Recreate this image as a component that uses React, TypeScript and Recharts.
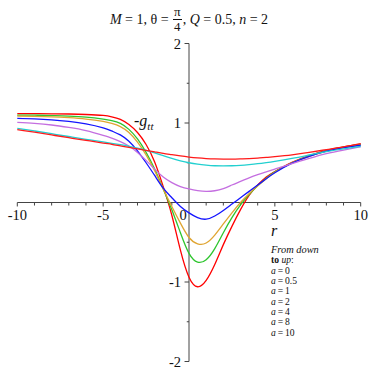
import React from "react";
import {
  LineChart,
  Line,
  XAxis,
  YAxis,
  ReferenceLine,
  ReferenceDot,
} from "recharts";

// r values the curves were read at
const rValues = [
  -10, -9, -8, -7, -6, -5, -4.5, -4, -3.5, -3, -2.5, -2, -1.5, -1, -0.5, 0, 0.5,
  1, 1.5, 2, 2.5, 3, 3.5, 4, 4.5, 5, 6, 7, 8, 9, 10,
];

// -g_tt, one array per value of a
const gA0 = [
  1.117, 1.117, 1.116, 1.113, 1.107, 1.095, 1.078, 1.045, 0.98, 0.88, 0.73, 0.51,
  0.2, -0.16, -0.6, -0.94, -1.06, -0.98, -0.78, -0.53, -0.3, -0.09, 0.09, 0.22,
  0.32, 0.39, 0.505, 0.59, 0.655, 0.7, 0.735,
];
const gA05 = [
  1.1, 1.098, 1.094, 1.087, 1.075, 1.05, 1.03, 0.995, 0.92, 0.8, 0.63, 0.42, 0.17,
  -0.09, -0.38, -0.64, -0.75, -0.72, -0.58, -0.38, -0.19, -0.03, 0.1, 0.21,
  0.305, 0.385, 0.5, 0.585, 0.65, 0.695, 0.73,
];
const gA1 = [
  1.088, 1.084, 1.078, 1.067, 1.05, 1.02, 0.995, 0.955, 0.88, 0.76, 0.6, 0.4, 0.17,
  -0.05, -0.26, -0.44, -0.52, -0.51, -0.41, -0.27, -0.13, 0.0, 0.11, 0.21, 0.3,
  0.38, 0.5, 0.58, 0.645, 0.69, 0.725,
];
const gA2 = [
  1.058, 1.052, 1.04, 1.02, 0.99, 0.94, 0.9, 0.85, 0.77, 0.65, 0.5, 0.34, 0.18,
  0.06, -0.05, -0.13, -0.19, -0.21, -0.17, -0.1, -0.02, 0.06, 0.14, 0.22, 0.3,
  0.375, 0.495, 0.58, 0.645, 0.69, 0.72,
];
const gA4 = [
  1.008, 0.995, 0.975, 0.945, 0.905, 0.845, 0.81, 0.765, 0.71, 0.63, 0.53, 0.42,
  0.32, 0.25, 0.2, 0.17, 0.15, 0.14, 0.148, 0.175, 0.22, 0.265, 0.31, 0.35, 0.385,
  0.42, 0.49, 0.555, 0.615, 0.66, 0.7,
];
const gA8 = [
  0.932, 0.9, 0.865, 0.83, 0.795, 0.762, 0.745, 0.727, 0.707, 0.683, 0.656, 0.625,
  0.59, 0.555, 0.525, 0.5, 0.482, 0.47, 0.462, 0.46, 0.462, 0.468, 0.477, 0.488,
  0.502, 0.518, 0.555, 0.598, 0.64, 0.675, 0.705,
];
const gA10 = [
  0.916, 0.885, 0.85, 0.815, 0.782, 0.748, 0.732, 0.712, 0.693, 0.675, 0.656,
  0.637, 0.618, 0.602, 0.586, 0.572, 0.561, 0.553, 0.548, 0.546, 0.546, 0.549,
  0.553, 0.559, 0.567, 0.577, 0.6, 0.63, 0.665, 0.7, 0.74,
];

const aLabels = ["0", "0.5", "1", "2", "4", "8", "10"];

const xTicks = [-10, -9, -8, -7, -6, -5, -4, -3, -2, -1, 1, 2, 3, 4, 5, 6, 7, 8, 9, 10];
const xTickLabels = [-10, -5, 0, 5, 10];
const yTicks = [-2, -1.5, -1, -0.5, 0.5, 1, 1.5, 2];
const yTickLabels = [-2, -1, 1, 2];

const series = [
  { key: "a0", values: gA0, color: "#ff0000" },
  { key: "a05", values: gA05, color: "#2ec52e" },
  { key: "a1", values: gA1, color: "#e0a532" },
  { key: "a2", values: gA2, color: "#1414ff" },
  { key: "a4", values: gA4, color: "#c46ee0" },
  { key: "a8", values: gA8, color: "#22d0d0" },
  { key: "a10", values: gA10, color: "#ff1a1a" },
];

const data = rValues.map((r, i) => {
  const row: Record<string, number> = { r };
  series.forEach((s) => (row[s.key] = s.values[i]));
  return row;
});

const FONT = "'Liberation Serif', 'DejaVu Serif', serif";
const AXIS = "#444";

function TickText({ viewBox, text, dx = 0, dy = 0, anchor = "middle" }: any) {
  if (!viewBox) return null;
  return (
    <text
      x={viewBox.x + dx}
      y={viewBox.y + dy}
      textAnchor={anchor}
      fontFamily={FONT}
      fontSize={14.5}
      fill="#111"
    >
      {text}
    </text>
  );
}

export default function App() {
  return (
    <div
      style={{
        position: "absolute",
        left: 0,
        top: 0,
        width: 374,
        height: 374,
        background: "#fff",
        fontFamily: FONT,
        color: "#111",
      }}
    >
      <LineChart
        width={374}
        height={374}
        data={data}
        margin={{ top: 43.5, right: 13.3, bottom: 12.5, left: 17.3 }}
      >
        <XAxis type="number" dataKey="r" domain={[-10, 10]} hide />
        <YAxis type="number" domain={[-2, 2]} hide />

        <ReferenceLine y={0} stroke={AXIS} strokeWidth={1} />
        <ReferenceLine x={0} stroke={AXIS} strokeWidth={1} />
        {xTicks.map((t) => (
          <ReferenceLine
            key={"xt" + t}
            segment={[
              { x: t, y: 0 },
              { x: t, y: t % 5 === 0 ? -0.05 : -0.038 },
            ]}
            stroke={AXIS}
          />
        ))}
        {yTicks.map((t) => (
          <ReferenceLine
            key={"yt" + t}
            segment={[
              { x: 0, y: t },
              { x: Number.isInteger(t) ? -0.26 : -0.13, y: t },
            ]}
            stroke={AXIS}
          />
        ))}
        {xTickLabels.map((t) => (
          <ReferenceDot
            key={"xl" + t}
            x={t}
            y={0}
            r={0}
            fill="none"
            stroke="none"
            label={
              <TickText text={String(t)} dx={t === 0 ? -6 : 0} dy={17} />
            }
          />
        ))}
        {yTickLabels.map((t) => (
          <ReferenceDot
            key={"yl" + t}
            x={0}
            y={t}
            r={0}
            fill="none"
            stroke="none"
            label={<TickText text={String(t)} dx={-8} dy={5} anchor="end" />}
          />
        ))}

        {series.map((s) => (
          <Line
            key={s.key}
            type="natural"
            dataKey={s.key}
            stroke={s.color}
            strokeWidth={1.3}
            dot={false}
            activeDot={false}
            isAnimationActive={false}
          />
        ))}
      </LineChart>

      {/* title */}
      <div
        style={{
          position: "absolute",
          left: 0,
          top: 5,
          width: 378,
          display: "flex",
          justifyContent: "center",
          alignItems: "center",
          fontSize: 14,
          whiteSpace: "pre",
        }}
      >
        <i>M</i>
        {" = 1, θ = "}
        <span
          style={{
            display: "inline-flex",
            flexDirection: "column",
            alignItems: "center",
            fontSize: 13,
            lineHeight: "14px",
            margin: "0 1px",
          }}
        >
          <span style={{ borderBottom: "1px solid #111", padding: "0 1px" }}>π</span>
          <span>4</span>
        </span>
        {", "}
        <i>Q</i>
        {" = 0.5, "}
        <i>n</i>
        {" = 2"}
      </div>

      {/* y label */}
      <div
        style={{
          position: "absolute",
          left: 134,
          top: 112,
          fontSize: 16,
          whiteSpace: "pre",
        }}
      >
        -<i>g</i>
        <i style={{ fontSize: 11, position: "relative", top: 4 }}>tt</i>
      </div>

      {/* x label */}
      <div
        style={{
          position: "absolute",
          left: 271,
          top: 222,
          fontSize: 16,
          fontStyle: "italic",
        }}
      >
        r
      </div>

      {/* legend text */}
      <div
        style={{
          position: "absolute",
          left: 271,
          top: 245,
          fontSize: 9.6,
          lineHeight: "10.35px",
          whiteSpace: "pre",
        }}
      >
        <div>
          <i style={{ fontSize: 10.4 }}>From down</i>
        </div>
        <div>
          <b>to</b> <i>up</i>:
        </div>
        {aLabels.map((a) => (
          <div key={a}>
            <i>a</i>
            {"\u2009=\u2009"}
            {a}
          </div>
        ))}
      </div>
    </div>
  );
}
